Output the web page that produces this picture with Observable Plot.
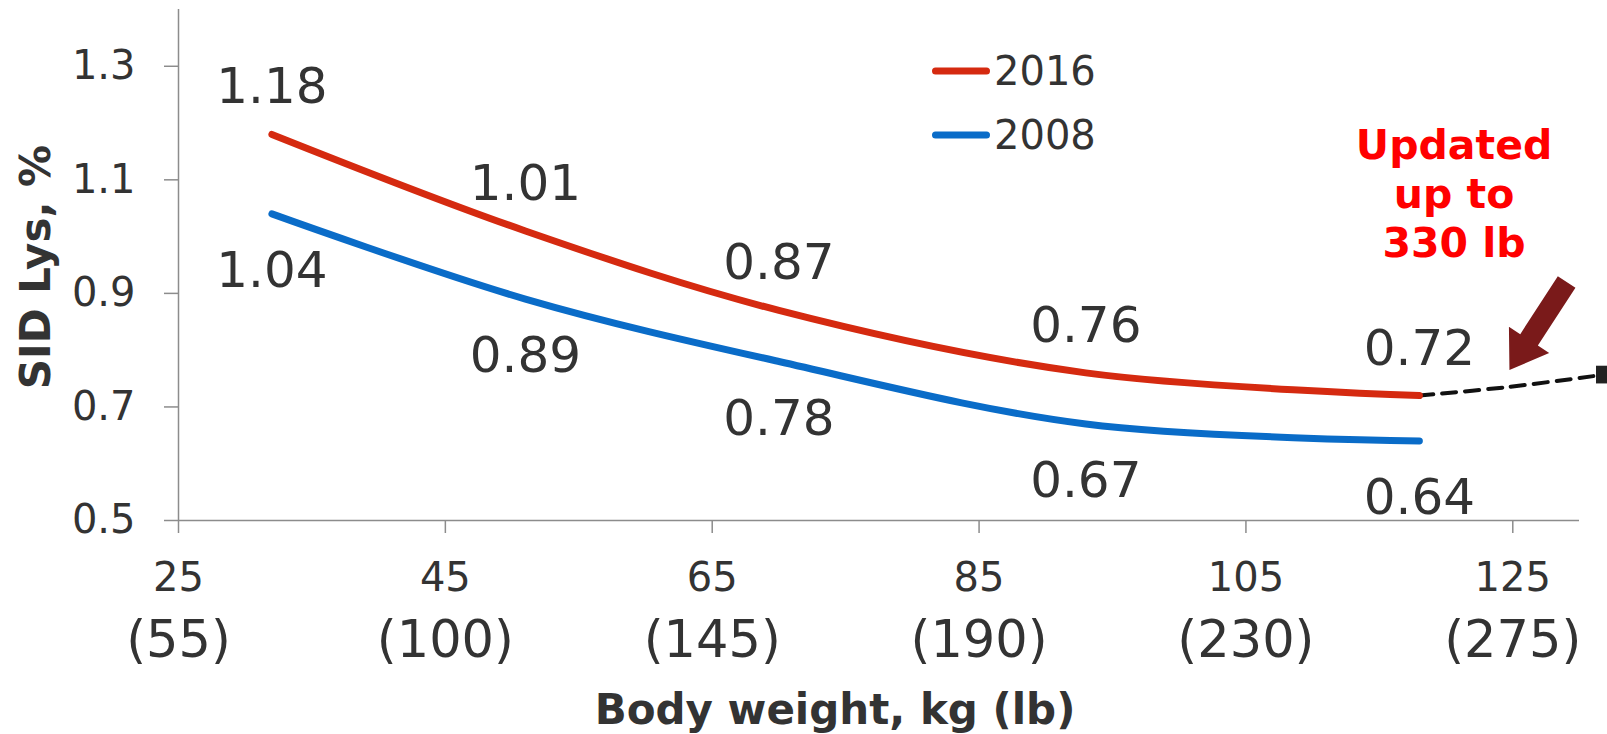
<!DOCTYPE html>
<html>
<head>
<meta charset="utf-8">
<script src="https://cdn.jsdelivr.net/npm/d3@7"></script>
<script src="https://cdn.jsdelivr.net/npm/@observablehq/plot@0.6"></script>
<style>
  html, body { margin: 0; padding: 0; background: #fff; }
  #chart svg { display: block; }
</style>
</head>
<body>
<div id="chart"></div>
<script>
// ---- data ----
const weightKg = [32, 51, 70, 93, 118];
const lys2016 = [1.18, 1.01, 0.87, 0.76, 0.72];
const lys2008 = [1.04, 0.89, 0.78, 0.67, 0.64];
const seriesNames = ["2016", "2008"];
const seriesColors = ["#d52a10", "#0a6cc8"];
const kgTicks = [25, 45, 65, 85, 105, 125];
const lbTicks = ["(55)", "(100)", "(145)", "(190)", "(230)", "(275)"];
const yTicks = [0.5, 0.7, 0.9, 1.1, 1.3];
const extensionKg = [118, 124.6, 131.9];
const extensionLys = [0.72, 0.735, 0.757];
const noteText = ["Updated\nup to\n330 lb"];
const noteKg = [120.6];
const noteLys = [1.078];
const arrowTipKg = [124.75];
const arrowTipLys = [0.765];

// ---- tables built from arrays ----
const rows2016 = weightKg.map((kg, i) => ({kg, lys: lys2016[i], series: seriesNames[0]}));
const rows2008 = weightKg.map((kg, i) => ({kg, lys: lys2008[i], series: seriesNames[1]}));
const rows = rows2016.concat(rows2008);
const extRows = extensionKg.map((kg, i) => ({kg, lys: extensionLys[i]}));
const noteRows = noteText.map((t, i) => ({kg: noteKg[i], lys: noteLys[i], text: t}));
const arrowRows = arrowTipKg.map((kg, i) => ({kg, lys: arrowTipLys[i]}));

const axisGray = "#8c8c8c";
const textGray = "#333333";

// filled block-arrow shape for Plot.vector
const blockArrow = {
  draw(context, l) {
    const sw = 10.5, hw = 24, hl = 36;
    context.moveTo(-sw, 0);
    context.lineTo(-sw, -(l - hl));
    context.lineTo(-hw, -(l - hl));
    context.lineTo(0, -l);
    context.lineTo(hw, -(l - hl));
    context.lineTo(sw, -(l - hl));
    context.lineTo(sw, 0);
    context.closePath();
  }
};

// legend drawn inside the frame
const legendMark = (index, scales, values, dims) => {
  const g = d3.create("svg:g");
  const x0 = dims.marginLeft + 757.5;
  const rowsY = [dims.marginTop + 62, dims.marginTop + 126];
  seriesNames.forEach((name, i) => {
    g.append("line")
      .attr("x1", x0).attr("x2", x0 + 51)
      .attr("y1", rowsY[i]).attr("y2", rowsY[i])
      .attr("stroke", seriesColors[i]).attr("stroke-width", 7)
      .attr("stroke-linecap", "round");
    g.append("text")
      .attr("x", x0 + 58.5).attr("y", rowsY[i]).attr("dy", "0.36em")
      .attr("text-anchor", "start")
      .attr("font-size", 40).attr("fill", textGray)
      .text(name);
  });
  return g.node();
};

const chart = Plot.plot({
  width: 1607,
  height: 734,
  marginLeft: 178,
  marginRight: 28,
  marginTop: 9,
  marginBottom: 214,
  style: {fontFamily: "DejaVu Sans", background: "#fff", overflow: "visible"},
  x: {domain: [25, 130]},
  y: {domain: [0.5, 1.4]},
  color: {domain: seriesNames, range: seriesColors},
  marks: [
    Plot.axisY({ticks: yTicks, tickSize: 14, tickPadding: 29, fontSize: 40,
      tickFormat: d => d.toFixed(1), stroke: axisGray, strokeWidth: 1.5, fill: textGray, label: null}),
    Plot.axisX({ticks: kgTicks, tickSize: 13, tickPadding: 29, fontSize: 40,
      tickFormat: d => String(d), stroke: axisGray, strokeWidth: 1.5, fill: textGray, label: null}),
    Plot.axisX({ticks: kgTicks, tickSize: 0, tickPadding: 100, fontSize: 51,
      tickFormat: d => lbTicks[kgTicks.indexOf(d)], stroke: "none", fill: textGray, label: null}),
    Plot.ruleX([25], {stroke: axisGray, strokeWidth: 1.5}),
    Plot.ruleY([0.5], {stroke: axisGray, strokeWidth: 1.5}),
    Plot.text(["SID Lys, %"], {frameAnchor: "left", textAnchor: "middle", lineAnchor: "middle",
      rotate: -90, dx: -142, dy: 2,
      fontSize: 42, fontWeight: "bold", fill: textGray, letterSpacing: 1.5}),
    Plot.text(["Body weight, kg (lb)"], {frameAnchor: "bottom", textAnchor: "middle", lineAnchor: "middle",
      dx: -44, dy: 190,
      fontSize: 42, fontWeight: "bold", fill: textGray}),
    Plot.line(extRows, {x: "kg", y: "lys", stroke: "#111", strokeWidth: 4,
      strokeDasharray: "14,9", curve: "catmull-rom"}),
    Plot.dot(extRows.slice(-1), {x: "kg", y: "lys", symbol: "square", r: 10, fill: "#222"}),
    Plot.line(rows, {x: "kg", y: "lys", z: "series", stroke: "series", strokeWidth: 7,
      curve: "catmull-rom", strokeLinecap: "round"}),
    Plot.text(rows2016, {x: "kg", y: "lys", text: d => d.lys.toFixed(2), dy: -47,
      fontSize: 50, fill: textGray}),
    Plot.text(rows2008, {x: "kg", y: "lys", text: d => d.lys.toFixed(2), dy: 57,
      fontSize: 50, fill: textGray}),
    Plot.text(noteRows, {x: "kg", y: "lys", text: "text", fill: "#ff0000", fontSize: 41,
      fontWeight: "bold", lineHeight: 1.2}),
    Plot.vector(arrowRows, {x: "kg", y: "lys", anchor: "end", rotate: 213, length: 105,
      shape: blockArrow, fill: "#7a1a1a", stroke: "none"}),
    legendMark
  ]
});
document.getElementById("chart").appendChild(chart);
</script>
</body>
</html>
